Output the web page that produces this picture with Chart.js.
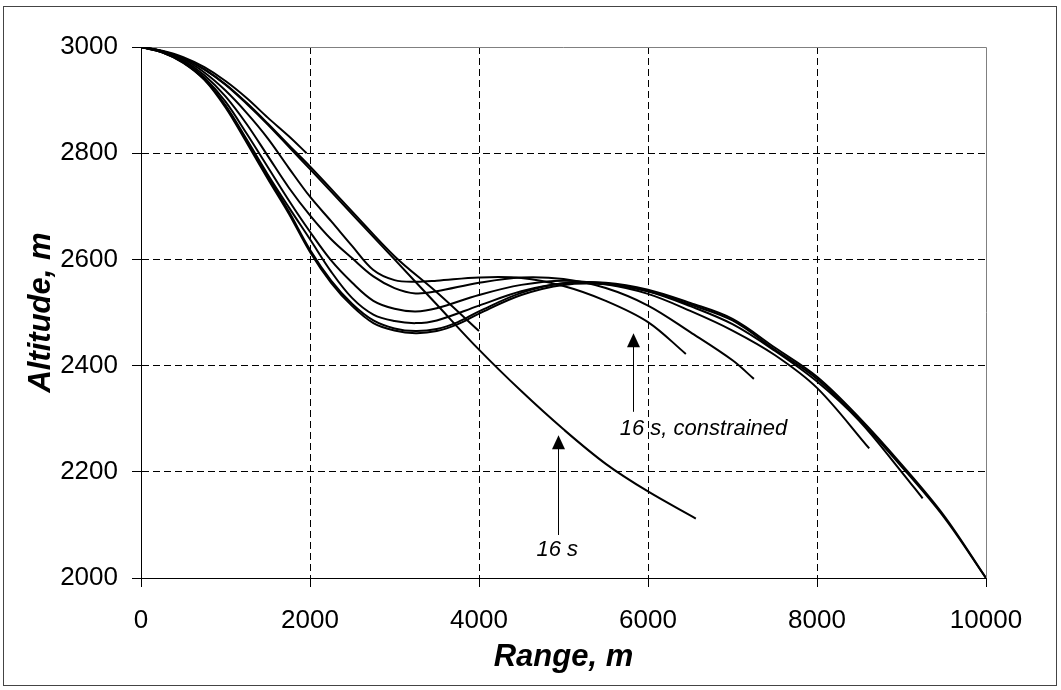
<!DOCTYPE html>
<html>
<head>
<meta charset="utf-8">
<script src="https://cdn.jsdelivr.net/npm/chart.js@4.4.0/dist/chart.umd.min.js"></script>
<style>
  html, body { margin: 0; padding: 0; background: #fff; }
  canvas { display: block; }
</style>
</head>
<body>
<canvas id="myChart" width="1061" height="690"></canvas>
<script>
// trajectories: range (m) and altitude (m)
const range16s = [0, 250, 500, 750, 1000, 1250, 1500, 1750, 2000, 2500, 3000, 3500, 4000, 4500, 5000, 5500, 6000, 6566];
const alt16s   = [3000, 2992, 2979, 2958, 2929, 2893, 2854, 2812, 2770, 2685, 2600, 2515, 2430, 2352, 2280, 2215, 2163, 2112];

const rangeB = [0, 250, 500, 750, 1000, 1250, 1500, 1750, 2000, 2500, 3000, 3500, 4000];
const altB   = [3000, 2992, 2979, 2958, 2930, 2895, 2856, 2815, 2775, 2690, 2606, 2538, 2465];

const rangeC = [0, 250, 500, 750, 1000, 1250, 1500, 1750, 1960];
const altC   = [3000, 2993, 2981, 2962, 2936, 2904, 2867, 2832, 2800];

const rangeD1 = [0, 250, 500, 750, 1000, 1250, 1500, 1750, 2000, 2250, 2500, 2750, 3000, 3250, 3500, 4000, 4500, 5000, 5500, 6000, 6448];
const altD1   = [3000, 2992, 2977, 2952, 2918, 2876, 2828, 2772, 2718, 2672, 2625, 2580, 2561, 2558, 2560, 2566, 2565, 2550, 2522, 2482, 2422];

const rangeD2 = [0, 250, 500, 750, 1000, 1250, 1500, 1750, 2000, 2250, 2500, 2750, 3000, 3250, 3500, 4000, 4500, 5000, 5500, 6000, 6500, 7000, 7253];
const altD2   = [3000, 2991, 2975, 2947, 2907, 2855, 2795, 2735, 2683, 2638, 2602, 2568, 2546, 2536, 2540, 2556, 2566, 2563, 2546, 2513, 2463, 2410, 2375];

const rangeD3 = [0, 250, 500, 750, 1000, 1250, 1500, 1750, 2000, 2250, 2500, 2750, 3000, 3250, 3500, 4000, 4500, 5000, 5500, 6000, 6500, 7000, 7500, 8000, 8618];
const altD3   = [3000, 2991, 2973, 2942, 2897, 2837, 2774, 2711, 2652, 2598, 2556, 2522, 2507, 2502, 2508, 2533, 2552, 2560, 2553, 2535, 2503, 2466, 2420, 2358, 2244];

const rangeD4 = [0, 250, 500, 750, 1000, 1250, 1500, 1750, 2000, 2250, 2500, 2750, 3000, 3250, 3500, 4000, 4500, 5000, 5500, 6000, 6500, 7000, 7500, 8000, 8500, 9000, 9250];
const altD4   = [3000, 2990, 2971, 2939, 2890, 2826, 2760, 2698, 2638, 2577, 2527, 2496, 2484, 2480, 2485, 2513, 2540, 2555, 2555, 2540, 2512, 2478, 2428, 2370, 2296, 2200, 2150];

const rangeFull = [0, 250, 500, 750, 1000, 1250, 1500, 1750, 2000, 2250, 2500, 2750, 3000, 3250, 3500, 3750, 4000, 4500, 5000, 5500, 6000, 6500, 7000, 7500, 8000, 8500, 9000, 9500, 10000];
const altFull1  = [3000, 2990, 2970, 2938, 2886, 2820, 2752, 2686, 2614, 2556, 2512, 2480, 2466, 2461, 2465, 2478, 2498, 2533, 2552, 2553, 2540, 2515, 2485, 2430, 2375, 2298, 2210, 2115, 2000];
const altFull2  = [3000, 2990, 2971, 2940, 2889, 2823, 2756, 2690, 2618, 2560, 2516, 2485, 2470, 2465, 2469, 2482, 2502, 2537, 2555, 2556, 2543, 2518, 2488, 2434, 2379, 2302, 2214, 2118, 2000];

const xTicks = [0, 2000, 4000, 6000, 8000, 10000];
const yTicks = [2000, 2200, 2400, 2600, 2800, 3000];

const fontName = "'Liberation Sans', Arial, sans-serif";

function toPoints(xs, ys) {
  return xs.map((x, i) => ({x: x, y: ys[i]}));
}

function line(xs, ys, w) {
  return {
    data: toPoints(xs, ys),
    borderColor: "#000",
    borderWidth: w || 2,
    pointRadius: 0,
    fill: false,
    tension: 0.35
  };
}

const frame = {
  id: "frame",
  beforeDatasetsDraw(chart) {
    const {ctx, chartArea} = chart;
    ctx.save();
    ctx.strokeStyle = "#808080";
    ctx.lineWidth = 1;
    ctx.beginPath();
    ctx.moveTo(chartArea.left, chartArea.top + 0.5);
    ctx.lineTo(chartArea.right + 0.5, chartArea.top + 0.5);
    ctx.lineTo(chartArea.right + 0.5, chartArea.bottom);
    ctx.stroke();
    ctx.restore();
  },
  afterDraw(chart) {
    const ctx = chart.ctx;
    const xs = chart.scales.x, ys = chart.scales.y;
    ctx.save();
    // outer border
    ctx.strokeStyle = "#444";
    ctx.lineWidth = 1;
    ctx.strokeRect(3.5, 6.5, 1053, 679);

    // axis titles
    ctx.fillStyle = "#000";
    ctx.font = "italic bold 31px " + fontName;
    ctx.textAlign = "center";
    ctx.textBaseline = "alphabetic";
    ctx.fillText("Range, m", (chart.chartArea.left + chart.chartArea.right) / 2, 666);
    ctx.save();
    ctx.translate(50, (chart.chartArea.top + chart.chartArea.bottom) / 2);
    ctx.rotate(-Math.PI / 2);
    ctx.fillText("Altitude, m", 0, 0);
    ctx.restore();

    // annotations with arrows
    ctx.font = "italic 22px " + fontName;
    ctx.textAlign = "left";
    ctx.fillText("16 s, constrained", xs.getPixelForValue(5666), ys.getPixelForValue(2269));
    ctx.fillText("16 s", xs.getPixelForValue(4680), ys.getPixelForValue(2042));
    arrow(ctx, xs.getPixelForValue(5824), ys.getPixelForValue(2313), ys.getPixelForValue(2461));
    arrow(ctx, xs.getPixelForValue(4935), ys.getPixelForValue(2081), ys.getPixelForValue(2269));
    ctx.restore();
  }
};

function arrow(ctx, x, yFrom, yTip) {
  x = Math.round(x) + 0.5;
  ctx.strokeStyle = "#000";
  ctx.lineWidth = 1;
  ctx.beginPath();
  ctx.moveTo(x, yFrom);
  ctx.lineTo(x, yTip + 10);
  ctx.stroke();
  ctx.beginPath();
  ctx.moveTo(x, yTip);
  ctx.lineTo(x - 6.5, yTip + 14);
  ctx.lineTo(x + 6.5, yTip + 14);
  ctx.closePath();
  ctx.fill();
}

function gridColor(edges) {
  return function(c) {
    if (c.tick && edges.indexOf(c.tick.value) >= 0) return "rgba(0,0,0,0)";
    return "#000";
  };
}

const config = {
  type: "line",
  data: {
    datasets: [
      line(range16s, alt16s),
      line(rangeB, altB),
      line(rangeC, altC),
      line(rangeD1, altD1),
      line(rangeD2, altD2),
      line(rangeD3, altD3),
      line(rangeD4, altD4),
      line(rangeFull, altFull1),
      line(rangeFull, altFull2)
    ]
  },
  options: {
    responsive: false,
    animation: false,
    events: [],
    layout: { padding: { top: 47, right: 75, left: 0, bottom: 0 } },
    plugins: { legend: { display: false }, tooltip: { enabled: false } },
    scales: {
      x: {
        type: "linear",
        min: 0,
        max: 10000,
        afterFit: s => { s.height = 112; },
        afterBuildTicks: s => { s.ticks = xTicks.map(v => ({value: v})); },
        ticks: {
          color: "#000",
          padding: 18,
          maxRotation: 0,
          font: { family: fontName, size: 26 },
          callback: v => String(v)
        },
        grid: {
          color: gridColor([0, 10000]),
          tickColor: "#000",
          tickLength: 9,
          tickBorderDash: []
        },
        border: { display: true, color: "#000", width: 1, dash: [7, 4] }
      },
      y: {
        type: "linear",
        min: 2000,
        max: 3000,
        afterFit: s => { s.width = 141; },
        afterBuildTicks: s => { s.ticks = yTicks.map(v => ({value: v})); },
        ticks: {
          color: "#000",
          padding: 14,
          font: { family: fontName, size: 26 },
          callback: v => String(v)
        },
        grid: {
          color: gridColor([2000, 3000]),
          tickColor: "#000",
          tickLength: 9,
          tickBorderDash: []
        },
        border: { display: true, color: "#000", width: 1, dash: [7, 4] }
      }
    }
  },
  plugins: [frame]
};

const ctx = document.getElementById("myChart").getContext("2d");
const myChart = new Chart(ctx, config);
</script>
</body>
</html>
